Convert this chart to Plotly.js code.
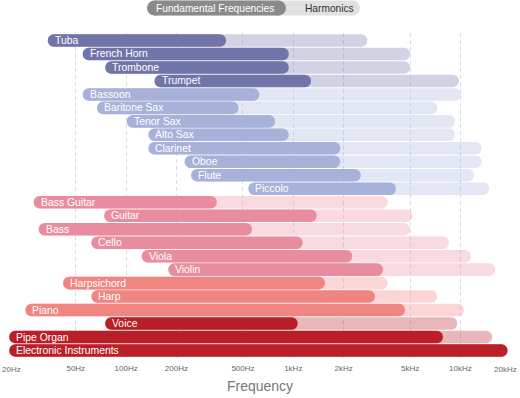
<!DOCTYPE html>
<html>
<head>
<meta charset="utf-8">
<script src="https://cdn.plot.ly/plotly-3.0.1.min.js"></script>
<style>
html,body{margin:0;padding:0;background:#fff;}
#chart{width:520px;height:398px;}
</style>
</head>
<body>
<div id="chart"></div>
<script>
// ---- data ----
const instruments = ["Tuba","French Horn","Trombone","Trumpet","Bassoon","Baritone Sax","Tenor Sax","Alto Sax","Clarinet","Oboe","Flute","Piccolo","Bass Guitar","Guitar","Bass","Cello","Viola","Violin","Harpsichord","Harp","Piano","Voice","Pipe Organ","Electronic Instruments"];
const families = ["brass","brass","brass","brass","woodwind","woodwind","woodwind","woodwind","woodwind","woodwind","woodwind","woodwind","strings","strings","strings","strings","strings","strings","keys","keys","keys","other","other","other"];
const lowFreq = [34, 55, 75, 148, 55, 67, 101, 136, 136, 224, 245, 539, 28, 74, 30, 62, 124, 179, 42, 62, 25, 75, 20, 20];
const fundHigh = [396, 940, 940, 1277, 627, 470, 778, 940, 1911, 1911, 2532, 4114, 349, 1381, 567, 1139, 2254, 3440, 1548, 3082, 4656, 1063, 7856, 19140];
const harmHigh = [2772, 5000, 5000, 9792, 10100, 7263, 9268, 9268, 13380, 13380, 12083, 14858, 3669, 5176, 5000, 8531, 11548, 16140, 3669, 7263, 10490, 9564, 15486, 19140];
const tickVals = [20, 50, 100, 200, 500, 1000, 2000, 5000, 10000, 20000];
const tickText = ["20Hz","50Hz","100Hz","200Hz","500Hz","1kHz","2kHz","5kHz","10kHz","20kHz"];
const legendNames = ["Fundamental Frequencies", "Harmonics"];

// ---- styles ----
const familyColors = {brass:'#7174a8', woodwind:'#a8b1d9', strings:'#e88da0', keys:'#f08480', other:'#ba1e26'};
const FONT = '"Liberation Sans", Arial, sans-serif';
const TICKFONT = {family: FONT, size: 8, color: '#666666'};

const harmTrace = {
  type: 'bar', orientation: 'h',
  y: instruments,
  base: lowFreq,
  x: harmHigh.map((h, i) => h - lowFreq[i]),
  marker: {color: families.map(f => familyColors[f]), opacity: 0.32, cornerradius: '50%', line: {width: 0}},
  hoverinfo: 'skip', showlegend: false
};
const fundTrace = {
  type: 'bar', orientation: 'h',
  y: instruments,
  base: lowFreq,
  x: fundHigh.map((h, i) => h - lowFreq[i]),
  marker: {color: families.map(f => familyColors[f]), cornerradius: '50%', line: {width: 0}},
  hoverinfo: 'skip', showlegend: false
};

// plot area geometry (pixels) for legend placement
const L = 9, R = 9, T = 33, B = 40, W = 520, H = 398;
const pw = W - L - R, ph = H - T - B;
const px2paperX = px => (px - L) / pw;
const py2paperY = py => (H - B - py) / ph;

function pill(x0, x1, y0, y1, color) {
  const h = y1 - y0, r = h / 2;
  const ax = px2paperX(x0), ay = py2paperY(y0 + r);
  const base = {xref: 'paper', yref: 'paper', xsizemode: 'pixel', ysizemode: 'pixel',
    xanchor: ax, yanchor: ay, fillcolor: color, line: {width: 0}, layer: 'above'};
  return [
    Object.assign({type: 'rect', x0: r, x1: (x1 - x0) - r, y0: -r, y1: r}, base),
    Object.assign({type: 'circle', x0: 0, x1: h, y0: -r, y1: r}, base),
    Object.assign({type: 'circle', x0: (x1 - x0) - h, x1: (x1 - x0), y0: -r, y1: r}, base)
  ];
}

const shapes = [].concat(
  pill(147, 360, 0.5, 15.5, '#e1e1e1'),
  pill(147, 286, 0.5, 15.5, '#8a8a8a')
);

const annotations = instruments.map((name, i) => ({
  x: Math.log10(lowFreq[i]), y: name, xref: 'x', yref: 'y',
  xanchor: 'left', yanchor: 'middle', xshift: 5,
  text: name, showarrow: false,
  font: {family: FONT, size: 10.4, color: '#ffffff'}
}));
annotations.push({
  xref: 'paper', yref: 'paper', x: px2paperX(215), y: py2paperY(8),
  xanchor: 'center', yanchor: 'middle', showarrow: false,
  text: legendNames[0], font: {family: FONT, size: 10.2, color: '#ffffff'}
});
annotations.push({
  xref: 'paper', yref: 'paper', x: px2paperX(329), y: py2paperY(8),
  xanchor: 'center', yanchor: 'middle', showarrow: false,
  text: legendNames[1], font: {family: FONT, size: 10.2, color: '#333333'}
});
// edge tick labels kept inside the figure
const last = tickVals.length - 1;
annotations.push({
  xref: 'x', yref: 'paper', x: Math.log10(tickVals[0]), y: 0, yshift: -11,
  xanchor: 'left', xshift: -9, yanchor: 'middle', showarrow: false,
  text: tickText[0], font: TICKFONT
});
annotations.push({
  xref: 'x', yref: 'paper', x: Math.log10(tickVals[last]), y: 0, yshift: -11,
  xanchor: 'right', xshift: 8, yanchor: 'middle', showarrow: false,
  text: tickText[last], font: TICKFONT
});
const axisTickText = tickText.map((t, i) => (i === 0 || i === last) ? '' : t);

const eps = 0.0015;
const layout = {
  width: W, height: H,
  margin: {l: L, r: R, t: T, b: B},
  paper_bgcolor: '#ffffff', plot_bgcolor: '#ffffff',
  font: {family: FONT},
  barmode: 'overlay', bargap: 0.07,
  showlegend: false,
  xaxis: {
    type: 'log', range: [Math.log10(tickVals[0]) - eps, Math.log10(tickVals[last]) + eps],
    tickvals: tickVals, ticktext: axisTickText,
    tickfont: TICKFONT,
    ticklabelstandoff: 4,
    ticks: '', showline: false, zeroline: false, automargin: false,
    showgrid: true, gridcolor: '#d6e0e6', griddash: '4px,3px', gridwidth: 1,
    title: {text: 'Frequency', font: {family: FONT, size: 14, color: '#777777'}, standoff: 9},
    fixedrange: true
  },
  yaxis: {
    type: 'category', autorange: 'reversed',
    showticklabels: false, showgrid: false, zeroline: false, showline: false, ticks: '',
    fixedrange: true
  },
  shapes: shapes,
  annotations: annotations
};

Plotly.newPlot('chart', [harmTrace, fundTrace], layout, {displayModeBar: false, staticPlot: true});
</script>
</body>
</html>
